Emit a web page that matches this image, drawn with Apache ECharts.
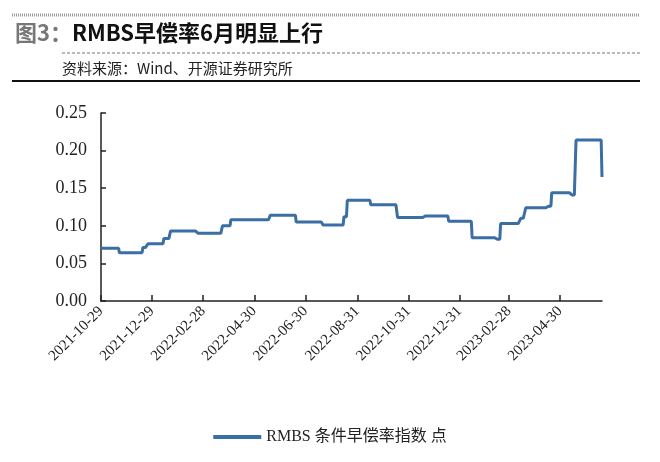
<!DOCTYPE html>
<html>
<head>
<meta charset="utf-8">
<script src="https://cdn.jsdelivr.net/npm/echarts@6/dist/echarts.min.js"></script>
<style>
  html, body { margin: 0; padding: 0; background: #fff; }
  #chart { width: 660px; height: 462px; }
</style>
</head>
<body>
<div id="chart"></div>
<script>
// step breakpoints: the level starts at that date and holds until the next one
var stepDates = [
  '2021-10-29', '2021-11-20', '2021-12-18', '2021-12-24', '2022-01-12', '2022-01-20',
  '2022-02-22', '2022-03-23', '2022-04-02', '2022-05-19', '2022-06-19', '2022-07-21',
  '2022-08-15', '2022-08-19', '2022-09-16', '2022-10-18', '2022-11-19', '2022-12-18',
  '2023-01-15', '2023-02-14', '2023-02-18', '2023-03-14', '2023-03-20', '2023-04-15',
  '2023-04-20', '2023-05-14', '2023-05-19', '2023-06-13', '2023-06-19'
];
var stepValues = [
  0.070, 0.064, 0.071, 0.076, 0.083, 0.093,
  0.090, 0.100, 0.108, 0.114, 0.105, 0.101,
  0.112, 0.134, 0.128, 0.111, 0.113, 0.106,
  0.084, 0.082, 0.103, 0.110, 0.124, 0.126,
  0.144, 0.141, 0.214, 0.214, 0.165
];
var tickDates = [
  '2021-10-29', '2021-12-29', '2022-02-28', '2022-04-30', '2022-06-30',
  '2022-08-31', '2022-10-31', '2022-12-31', '2023-02-28', '2023-04-30'
];
var seriesName = 'RMBS 条件早偿率指数 点';

var lineColor = '#3b6ea5';
var serif = '"Liberation Serif", "DejaVu Serif", serif';

function pad(n) { return n < 10 ? '0' + n : '' + n; }
function fmt(d) { return d.getUTCFullYear() + '-' + pad(d.getUTCMonth() + 1) + '-' + pad(d.getUTCDate()); }

// daily categories from first to last breakpoint, each day holding the current step level
var days = [];
var values = [];
var cur = new Date(stepDates[0] + 'T00:00:00Z');
var end = new Date(stepDates[stepDates.length - 1] + 'T00:00:00Z');
var k = 0;
while (cur <= end) {
  var s = fmt(cur);
  while (k + 1 < stepDates.length && stepDates[k + 1] <= s) k++;
  days.push(s);
  values.push(stepValues[k]);
  cur = new Date(cur.getTime() + 86400000);
}

function isTick(i) { return tickDates.indexOf(days[i]) >= 0; }

var myChart = echarts.init(document.getElementById('chart'));

var option = {
  animation: false,
  grid: { left: 101, right: 58, top: 113, bottom: 161 },
  xAxis: {
    type: 'category',
    data: days,
    boundaryGap: false,
    axisLine: { lineStyle: { color: '#222', width: 1.5 } },
    axisTick: { show: true, inside: true, length: 6, interval: isTick, lineStyle: { color: '#222', width: 1.5 } },
    axisLabel: {
      interval: isTick,
      rotate: 45,
      color: '#222',
      fontFamily: serif,
      fontSize: 15
    },
    splitLine: { show: false }
  },
  yAxis: {
    type: 'value',
    min: 0,
    max: 0.25,
    interval: 0.05,
    axisLine: { show: true, lineStyle: { color: '#222', width: 1.5 } },
    axisTick: { show: true, inside: true, length: 5, lineStyle: { color: '#222', width: 1.5 } },
    axisLabel: {
      color: '#222',
      fontFamily: serif,
      fontSize: 18,
      margin: 14,
      formatter: function (v) { return v.toFixed(2); }
    },
    splitLine: { show: false }
  },
  legend: {
    bottom: 12,
    left: 'center',
    itemWidth: 48,
    itemHeight: 4,
    icon: 'rect',
    textStyle: { color: '#222', fontSize: 16, fontFamily: serif + ', "Noto Sans CJK SC"' },
    data: [seriesName]
  },
  series: [{
    name: seriesName,
    type: 'line',
    symbol: 'none',
    data: values,
    itemStyle: { color: lineColor },
    lineStyle: { color: lineColor, width: 3 }
  }],
  graphic: [
    { type: 'line', shape: { x1: 12, y1: 15, x2: 640, y2: 15 }, style: { stroke: '#999', lineWidth: 3, lineDash: [1, 1] } },
    {
      type: 'text', left: 15, top: 22,
      style: {
        text: '{g|图3：}{b|RMBS早偿率6月明显上行}',
        rich: {
          g: { fill: '#777', fontSize: 22, fontWeight: 'bold', fontFamily: '"Noto Sans CJK SC"' },
          b: { fill: '#111', fontSize: 22, fontWeight: 'bold', fontFamily: '"Noto Sans CJK SC"' }
        }
      }
    },
    { type: 'line', shape: { x1: 62, y1: 53, x2: 640, y2: 53 }, style: { stroke: '#777', lineWidth: 1, lineDash: [3, 2] } },
    {
      type: 'text', left: 62, top: 61,
      style: { text: '资料来源：Wind、开源证券研究所', fill: '#222', fontSize: 15, fontFamily: '"Noto Sans CJK SC"' }
    },
    { type: 'line', shape: { x1: 12, y1: 81, x2: 640, y2: 81 }, style: { stroke: '#111', lineWidth: 2 } }
  ]
};

myChart.setOption(option);
</script>
</body>
</html>
